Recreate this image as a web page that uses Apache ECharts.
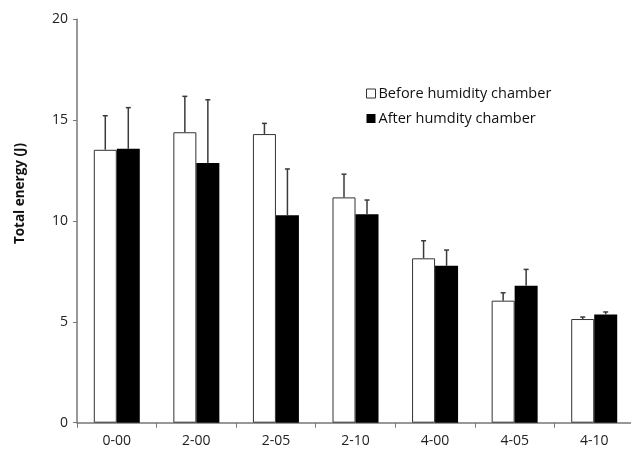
<!DOCTYPE html>
<html lang="en">
<head>
    <meta charset="UTF-8">
    <title>Total energy</title>
    <script src="https://cdn.jsdelivr.net/npm/echarts@6/dist/echarts.min.js"></script>
    <style>
        html, body { margin: 0; padding: 0; background: #fff; }
        #chart { width: 631px; height: 456px; }
    </style>
</head>
<body>
<div id="chart"></div>
<script type="application/javascript">
    var categories = ['0-00', '2-00', '2-05', '2-10', '4-00', '4-05', '4-10'];
    var beforeValues = [13.53, 14.40, 14.31, 11.17, 8.15, 6.05, 5.14];
    var beforeErrTop = [15.22, 16.18, 14.84, 12.32, 9.02, 6.44, 5.24];
    var afterValues = [13.58, 12.88, 10.28, 10.33, 7.78, 6.79, 5.37];
    var afterErrTop = [15.62, 16.01, 12.58, 11.04, 8.56, 7.60, 5.49];
    var yTicks = [0, 5, 10, 15, 20];

    var font = '"Open Sans", "Noto Sans", sans-serif';
    var barW = 23;

    // upper error bar only, with a small cap
    function errorBars(values, tops, side) {
        return {
            type: 'custom',
            silent: true,
            z: 5,
            data: values.map(function (v, i) { return [i, v, tops[i]]; }),
            renderItem: function (params, api) {
                var from = api.coord([api.value(0), api.value(1)]);
                var to = api.coord([api.value(0), api.value(2)]);
                var x = from[0] + side * barW / 2;
                var style = {stroke: '#3a3a3a', lineWidth: 1.5};
                return {
                    type: 'group',
                    children: [
                        {type: 'line', shape: {x1: x, y1: from[1], x2: x, y2: to[1]}, style: style},
                        {type: 'line', shape: {x1: x - 2.5, y1: to[1], x2: x + 2.5, y2: to[1]}, style: style}
                    ]
                };
            }
        };
    }

    var chart = echarts.init(document.getElementById('chart'));
    var option = {
        animation: false,
        backgroundColor: '#fff',
        grid: {left: 77, right: -3, top: 19.3, bottom: 33.3, containLabel: false, outerBoundsMode: 'none'},
        legend: {
            orient: 'vertical',
            left: 361,
            top: 81,
            itemWidth: 9,
            itemHeight: 9,
            itemGap: 10,
            icon: 'rect',
            data: [
                {name: 'Before humidity chamber', itemStyle: {color: '#fff', borderColor: '#333', borderWidth: 1}},
                {name: 'After humdity chamber', itemStyle: {color: '#000'}}
            ],
            textStyle: {fontFamily: font, fontSize: 14.5, color: '#111', padding: [0, 0, 0, -2]}
        },
        xAxis: {
            type: 'category',
            data: categories,
            axisLine: {lineStyle: {color: '#777', width: 1.5}},
            axisTick: {show: true, length: 5, inside: false, lineStyle: {color: '#777'}},
            axisLabel: {fontFamily: font, fontSize: 14, color: '#222', margin: 11}
        },
        yAxis: {
            type: 'value',
            min: yTicks[0],
            max: yTicks[yTicks.length - 1],
            interval: 5,
            name: 'Total energy (J)',
            nameLocation: 'middle',
            nameGap: 50,
            nameRotate: 90,
            nameTextStyle: {fontFamily: font, fontSize: 13.5, fontWeight: 'bold', color: '#111', padding: [0, 0, 0, 55]},
            axisLine: {show: true, lineStyle: {color: '#777', width: 1.5}},
            axisTick: {show: true, length: 4, lineStyle: {color: '#777'}},
            splitLine: {show: false},
            axisLabel: {fontFamily: font, fontSize: 14, color: '#222', margin: 9}
        },
        series: [
            {
                name: 'Before humidity chamber',
                type: 'bar',
                barWidth: barW,
                barGap: '0%',
                data: beforeValues,
                itemStyle: {color: '#fff', borderColor: '#333', borderWidth: 1}
            },
            {
                name: 'After humdity chamber',
                type: 'bar',
                barWidth: barW,
                barGap: '0%',
                data: afterValues,
                itemStyle: {color: '#000'}
            },
            errorBars(beforeValues, beforeErrTop, -1),
            errorBars(afterValues, afterErrTop, 1)
        ]
    };
    chart.setOption(option);
</script>
</body>
</html>
